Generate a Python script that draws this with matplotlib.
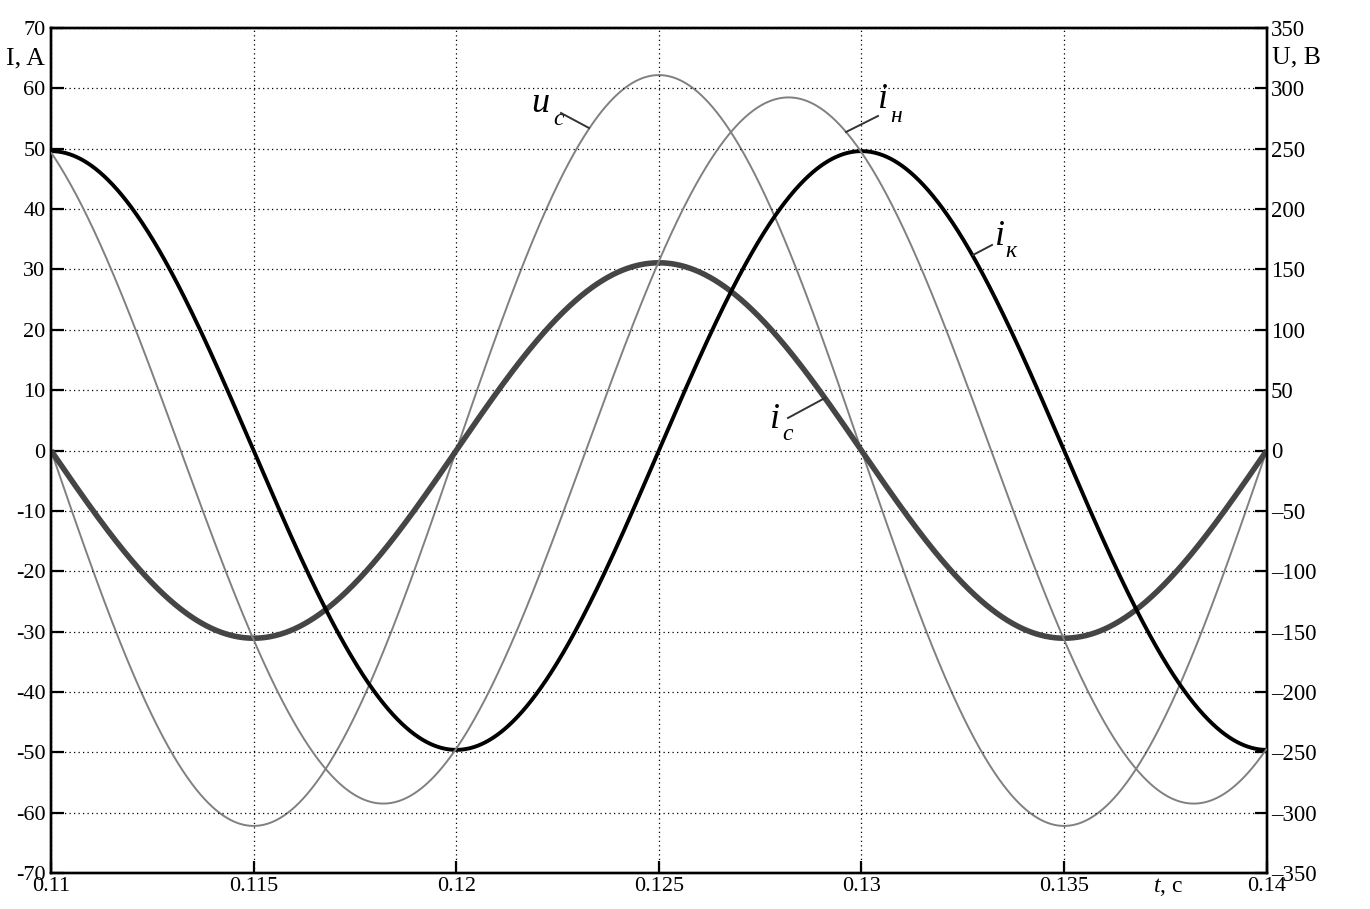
import numpy as np
import matplotlib
matplotlib.use("Agg")
import matplotlib.pyplot as plt

plt.rcParams['font.family'] = ['Liberation Serif', 'DejaVu Serif']
plt.rcParams['mathtext.fontset'] = 'custom'
plt.rcParams['mathtext.rm'] = 'Liberation Serif'
plt.rcParams['mathtext.it'] = 'Liberation Serif:italic'

# ---- data ----
series_names = ['u_c', 'i_н', 'i_к', 'i_c']
amplitudes = [311.0, 58.5, 49.6, 31.1]          # V for u_c, A for currents
peak_times = [0.125, 0.1282, 0.130, 0.125]      # s, time of positive peak
frequency = 50.0                                 # Hz
series_axis = ['right', 'left', 'left', 'left']

x_ticks = [0.11, 0.115, 0.12, 0.125, 0.13, 0.135, 0.14]
x_tick_labels = ['0.11', '0.115', '0.12', '0.125', '0.13', '0.135', '0.14']
left_ticks = [70, 60, 50, 40, 30, 20, 10, 0, -10, -20, -30, -40, -50, -60, -70]
left_tick_labels = ['70', '60', '50', '40', '30', '20', '10', '0', '-10', '-20',
                    '-30', '-40', '-50', '-60', '-70']
right_ticks = [350, 300, 250, 200, 150, 100, 50, 0, -50, -100, -150, -200, -250, -300, -350]
right_tick_labels = ['350', '300', '250', '200', '150', '100', '50', '0', '\u201350',
                     '\u2013100', '\u2013150', '\u2013200', '\u2013250', '\u2013300', '\u2013350']

t = np.linspace(0.11, 0.14, 4001)

fig = plt.figure(figsize=(13.7, 9.09), dpi=100)
ax = fig.add_axes([51 / 1370, 36 / 909, 1215.7 / 1370, 845 / 909])
ax2 = ax.twinx()

ax.set_xlim(0.11, 0.14)
ax.set_ylim(-70, 70)
ax2.set_ylim(-350, 350)

styles = {
    'u_c': dict(color='#808080', lw=1.4, zorder=4),
    'i_н': dict(color='#808080', lw=1.4, zorder=4),
    'i_к': dict(color='#000000', lw=2.8, zorder=3),
    'i_c': dict(color='#454545', lw=4.0, zorder=2),
}

ax.set_zorder(ax2.get_zorder() + 1)
ax.patch.set_visible(False)

for name, A, tp, side in zip(series_names, amplitudes, peak_times, series_axis):
    y = A * np.cos(2 * np.pi * frequency * (t - tp))
    target = ax2 if side == 'right' else ax
    target.plot(t, y, solid_capstyle='butt', **styles[name])

ax.set_xticks(x_ticks)
ax.set_xticklabels(x_tick_labels)
ax.set_yticks(left_ticks)
ax.set_yticklabels(left_tick_labels)
ax2.set_yticks(right_ticks)
ax2.set_yticklabels(right_tick_labels)

ax.grid(True, color='black', linestyle=(0, (1, 2.6)), linewidth=0.9)
ax.tick_params(axis='both', direction='in', length=9, width=1.6, labelsize=16)
ax.tick_params(axis='y', pad=4)
ax.tick_params(axis='x', pad=3, top=False)
ax2.tick_params(axis='y', direction='in', length=9, width=1.6, labelsize=16.5, pad=3)
for a in (ax, ax2):
    for s in a.spines.values():
        s.set_linewidth(1.7)

# axis names
fig.text(45 / 1370, 1 - 58 / 909, 'I, A', ha='right', va='center', fontsize=18.5)
fig.text(1272 / 1370, 1 - 57 / 909, 'U, B', ha='left', va='center', fontsize=18.5)
fig.text(1168 / 1370, 1 - 887 / 909, '$t$, c', ha='center', va='center', fontsize=17)

# curve labels with leader lines (left-axis data coordinates)
main_fs = 26
sub_fs = 17
labels = [
    ('u', 'c', (0.121844, 56.08), (0.122388, 53.93), (0.122585, 55.92), (0.123276, 53.43)),
    ('i', 'н', (0.130407, 56.75), (0.130704, 54.43), (0.130408, 55.42), (0.129619, 52.77)),
    ('i', 'к', (0.133294, 34.05), (0.133542, 32.06), (0.133221, 34.05), (0.132752, 32.39)),
    ('i', 'c', (0.127742, 3.73), (0.128039, 1.74), (0.128187, 5.39), (0.129100, 8.70)),
]
for main, sub, pm, ps, l1, l2 in labels:
    ax.text(pm[0], pm[1], main, fontsize=main_fs, style='italic', ha='left',
            va='baseline', zorder=6)
    ax.text(ps[0], ps[1], sub, fontsize=sub_fs, style='italic', ha='left',
            va='baseline', zorder=6)
    ax.plot([l1[0], l2[0]], [l1[1], l2[1]], color='#333333', lw=1.4, zorder=6)

fig.savefig('out.png', dpi=100)
